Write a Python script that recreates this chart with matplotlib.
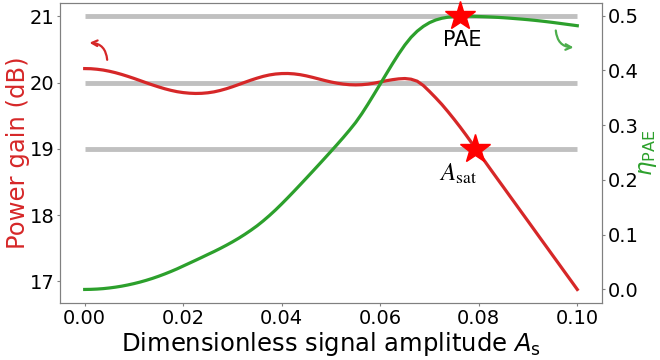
import numpy as np
import matplotlib
matplotlib.use("Agg")
import matplotlib.pyplot as plt

# Signal amplitude grid (step 0.00125) and the curves sampled on it
amplitude = np.linspace(0.0, 0.1, 81)

gain_db = [20.210, 20.208, 20.200, 20.188, 20.170, 20.148, 20.122, 20.093,
           20.062, 20.029, 19.996, 19.964, 19.934, 19.906, 19.882, 19.862,
           19.848, 19.839, 19.835, 19.837, 19.845, 19.859, 19.880, 19.906,
           19.936, 19.969, 20.003, 20.036, 20.066, 20.093, 20.114, 20.128,
           20.135, 20.136, 20.130, 20.118, 20.100, 20.078, 20.054, 20.030,
           20.008, 19.990, 19.976, 19.967, 19.964, 19.967, 19.976, 19.990,
           20.008, 20.027, 20.043, 20.055, 20.060, 20.050, 20.020, 19.955,
           19.865, 19.770, 19.670, 19.560, 19.445, 19.325, 19.200, 19.070,
           18.940, 18.810, 18.680, 18.551, 18.423, 18.294, 18.166, 18.037,
           17.909, 17.780, 17.651, 17.523, 17.394, 17.266, 17.137, 17.009,
           16.880]

pae = [0.0000, 0.0002, 0.0007, 0.0015, 0.0027, 0.0042, 0.0060, 0.0082,
       0.0107, 0.0135, 0.0167, 0.0202, 0.0241, 0.0283, 0.0328, 0.0376,
       0.0428, 0.0480, 0.0532, 0.0585, 0.0639, 0.0692, 0.0748, 0.0807,
       0.0869, 0.0935, 0.1006, 0.1082, 0.1163, 0.1253, 0.1350, 0.1453,
       0.1563, 0.1677, 0.1794, 0.1913, 0.2033, 0.2154, 0.2276, 0.2399,
       0.2523, 0.2648, 0.2776, 0.2909, 0.3049, 0.3209, 0.3384, 0.3567,
       0.3753, 0.3940, 0.4125, 0.4302, 0.4465, 0.4605, 0.4717, 0.4805,
       0.4873, 0.4921, 0.4953, 0.4973, 0.4985, 0.4990, 0.4991, 0.4989,
       0.4985, 0.4981, 0.4976, 0.4970, 0.4963, 0.4955, 0.4946, 0.4937,
       0.4927, 0.4916, 0.4904, 0.4891, 0.4877, 0.4862, 0.4847, 0.4832,
       0.4817]

gain_levels = [19, 20, 21]

sat_point = (0.0793, 19.0)
pae_peak = (0.0762, 0.4991)

RED = "#d62728"
GREEN = "#2ca02c"
SPINE = "#808080"

fig = plt.figure(figsize=(6.6, 3.6), dpi=100)
ax1 = fig.add_axes([0.091, 0.158, 0.821, 0.835])
ax2 = ax1.twinx()

ax1.hlines(gain_levels, amplitude[0], amplitude[-1], colors="#c0c0c0",
           linewidth=3.5, zorder=1)
ax1.plot(amplitude, gain_db, color=RED, linewidth=2.3, zorder=3)
ax2.plot(amplitude, pae, color=GREEN, linewidth=2.3, zorder=3)

ax1.plot(*sat_point, marker="*", color="red", markersize=22, zorder=5,
         clip_on=False)
ax2.plot(*pae_peak, marker="*", color="red", markersize=22, zorder=5,
         clip_on=False)

ax1.text(sat_point[0] - 0.0035, sat_point[1] - 0.2, r"$A_{\rm sat}$",
         fontsize=18, ha="center", va="top", math_fontfamily="stix")
ax2.text(pae_peak[0] + 0.0005, pae_peak[1] - 0.025, "PAE", fontsize=15,
         ha="center", va="top")

ax1.annotate("", xy=(0.0004, 20.6), xytext=(0.0046, 20.3),
             arrowprops=dict(arrowstyle="->", color=RED, lw=1.6,
                             connectionstyle="arc3,rad=0.5"))
ax2.annotate("", xy=(0.0998, 0.442), xytext=(0.0956, 0.478),
             arrowprops=dict(arrowstyle="->", color="#4cae4c", lw=1.6,
                             connectionstyle="arc3,rad=0.5"))

ax1.set_xticks([0.00, 0.02, 0.04, 0.06, 0.08, 0.10])
ax1.set_yticks([17, 18, 19, 20, 21])
ax2.set_yticks([0.0, 0.1, 0.2, 0.3, 0.4, 0.5])

ax1.set_xlabel(r"Dimensionless signal amplitude $A_{\rm s}$", fontsize=17.5,
               labelpad=2)
ax1.set_ylabel("Power gain (dB)", fontsize=17.5, color=RED, labelpad=0)
ax2.set_ylabel(r"$\eta_{\rm PAE}$", fontsize=16.5, color=GREEN, labelpad=-2)

for ax in (ax1, ax2):
    ax.tick_params(labelsize=14, color=SPINE, length=2.5, pad=1.5)
    for sp in ax.spines.values():
        sp.set_color(SPINE)

fig.savefig("out.png", dpi=100)
